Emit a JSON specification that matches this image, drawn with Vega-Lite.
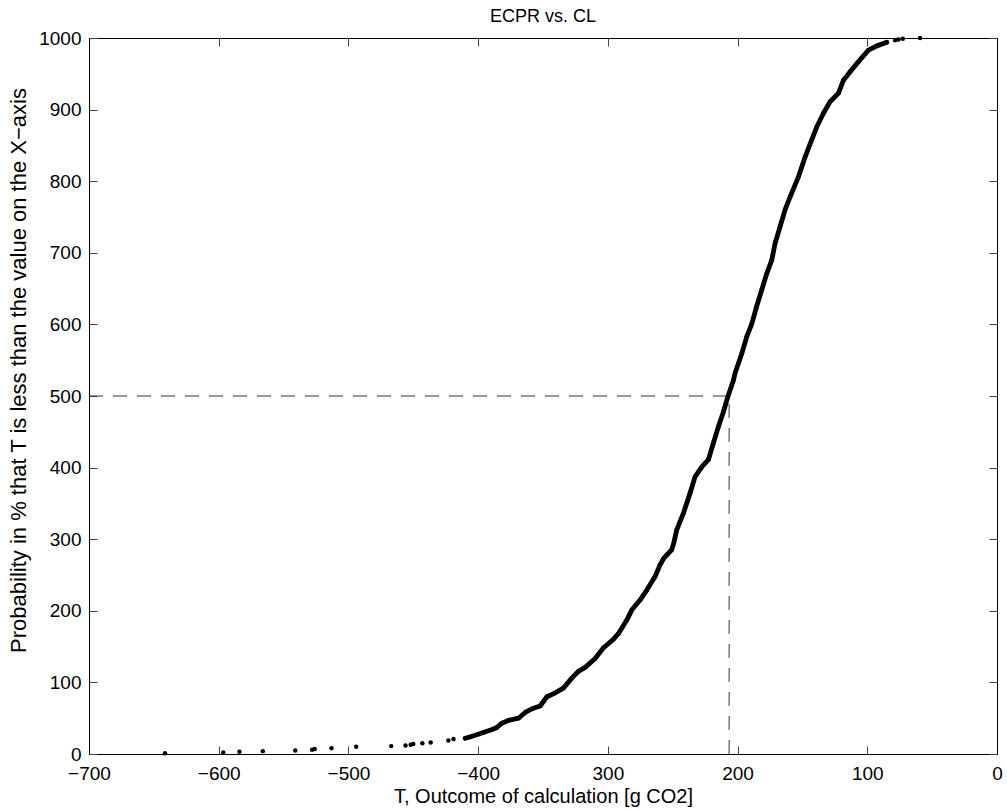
{
  "$schema": "https://vega.github.io/schema/vega-lite/v6.json",
  "width": 908,
  "height": 716,
  "autosize": {"type": "none"},
  "padding": {"left": 89, "top": 38, "right": 10, "bottom": 56},
  "background": "white",
  "config": {
    "font": "Liberation Sans",
    "view": {"stroke": "black", "strokeWidth": 1},
    "axis": {
      "labelFont": "Liberation Sans",
      "titleFont": "Liberation Sans",
      "labelFontSize": 19,
      "titleFontSize": 20,
      "titleFontWeight": "normal",
      "labelColor": "black",
      "titleColor": "black",
      "domainColor": "black",
      "tickColor": "#444",
      "grid": false
    }
  },
  "title": {
    "text": "ECPR vs. CL",
    "font": "Liberation Sans",
    "fontSize": 18,
    "fontWeight": "normal",
    "color": "black",
    "anchor": "middle",
    "offset": 3
  },
  "datasets": {
    "cdf": [
      {"T": -641.4, "P": 1},
      {"T": -596.5, "P": 2},
      {"T": -584, "P": 3},
      {"T": -566, "P": 4},
      {"T": -541, "P": 5},
      {"T": -528, "P": 6},
      {"T": -526, "P": 7},
      {"T": -513, "P": 8},
      {"T": -494, "P": 10},
      {"T": -467, "P": 11},
      {"T": -456, "P": 12},
      {"T": -452, "P": 13},
      {"T": -450, "P": 14},
      {"T": -443, "P": 15},
      {"T": -436.6, "P": 16},
      {"T": -423, "P": 19},
      {"T": -419, "P": 21},
      {"T": -410, "P": 22},
      {"T": -406, "P": 24},
      {"T": -401, "P": 27},
      {"T": -396, "P": 30},
      {"T": -389.7, "P": 34},
      {"T": -385.6, "P": 37},
      {"T": -381.8, "P": 43},
      {"T": -376.6, "P": 47},
      {"T": -368.9, "P": 50},
      {"T": -363.8, "P": 58},
      {"T": -357.4, "P": 64},
      {"T": -352.2, "P": 67},
      {"T": -347, "P": 80},
      {"T": -342, "P": 84},
      {"T": -334.3, "P": 92},
      {"T": -327.8, "P": 106},
      {"T": -323, "P": 115},
      {"T": -317.5, "P": 121},
      {"T": -310, "P": 133},
      {"T": -303.5, "P": 148},
      {"T": -295.8, "P": 160},
      {"T": -291.9, "P": 168},
      {"T": -285.4, "P": 187},
      {"T": -281.6, "P": 201},
      {"T": -275.2, "P": 215},
      {"T": -270, "P": 229},
      {"T": -263.6, "P": 248},
      {"T": -259.8, "P": 264},
      {"T": -257, "P": 273},
      {"T": -254.6, "P": 278},
      {"T": -250.8, "P": 285},
      {"T": -249, "P": 296},
      {"T": -246.9, "P": 313},
      {"T": -241.8, "P": 336},
      {"T": -236.7, "P": 364},
      {"T": -232.8, "P": 387},
      {"T": -227.6, "P": 401},
      {"T": -222.5, "P": 411},
      {"T": -218.7, "P": 434},
      {"T": -214.8, "P": 457},
      {"T": -210.9, "P": 478},
      {"T": -207.5, "P": 499},
      {"T": -203.2, "P": 522},
      {"T": -201.9, "P": 532},
      {"T": -196.8, "P": 559},
      {"T": -192.9, "P": 583},
      {"T": -189, "P": 601},
      {"T": -185.3, "P": 625},
      {"T": -181.4, "P": 648},
      {"T": -177.5, "P": 671},
      {"T": -173.6, "P": 690},
      {"T": -171.1, "P": 713},
      {"T": -167.3, "P": 736},
      {"T": -163.4, "P": 760},
      {"T": -159.5, "P": 778},
      {"T": -153.1, "P": 806},
      {"T": -147.9, "P": 834},
      {"T": -142.8, "P": 858},
      {"T": -138.9, "P": 876},
      {"T": -133.8, "P": 895},
      {"T": -128.7, "P": 911},
      {"T": -122.2, "P": 923},
      {"T": -118.4, "P": 941},
      {"T": -113.2, "P": 953},
      {"T": -106.8, "P": 967},
      {"T": -99.1, "P": 983},
      {"T": -92.6, "P": 989},
      {"T": -84.9, "P": 994},
      {"T": -78.5, "P": 997},
      {"T": -76, "P": 998},
      {"T": -72.6, "P": 999},
      {"T": -59.3, "P": 1000}
    ],
    "medianGuide": [
      {"step": 1, "T": -700, "P": 500},
      {"step": 2, "T": -206.5, "P": 500},
      {"step": 3, "T": -206.5, "P": 0}
    ]
  },
  "resolve": {"axis": {"x": "independent", "y": "independent"}},
  "layer": [
    {
      "data": {"name": "cdf"},
      "transform": [{"filter": "datum.P >= 22 && datum.P <= 994"}],
      "mark": {"type": "line", "color": "black", "strokeWidth": 4.8, "strokeJoin": "round", "strokeCap": "round"},
      "encoding": {
        "x": {
          "field": "T", "type": "quantitative",
          "scale": {"domain": [-700, 0], "nice": false, "zero": false},
          "axis": {
            "orient": "bottom",
            "values": [-700, -600, -500, -400, -300, -200, -100, 0],
            "labelExpr": "datum.value <= -400 ? '\u2212' + abs(datum.value) : '' + abs(datum.value)",
            "tickSize": -8,
            "labelPadding": 18,
            "labelFlush": false,
            "labelOverlap": false,
            "title": "T, Outcome of calculation [g CO2]",
            "titlePadding": 3
          }
        },
        "y": {
          "field": "P", "type": "quantitative",
          "scale": {"domain": [0, 1000], "nice": false},
          "axis": {
            "orient": "left",
            "values": [0, 100, 200, 300, 400, 500, 600, 700, 800, 900, 1000],
            "format": "d",
            "tickSize": -8,
            "labelPadding": 16,
            "labelFlush": false,
            "labelOverlap": false,
            "title": "Probability in % that T is less than the value on the X\u2212axis",
            "titleFontSize": 22,
            "titleY": 332,
            "titlePadding": 8
          }
        },
        "order": {"field": "P", "type": "quantitative"}
      }
    },
    {
      "data": {"name": "cdf"},
      "mark": {"type": "circle", "color": "black", "opacity": 1, "size": 20},
      "encoding": {
        "x": {
          "field": "T", "type": "quantitative",
          "scale": {"domain": [-700, 0], "nice": false, "zero": false},
          "axis": {
            "orient": "top",
            "values": [-700, -600, -500, -400, -300, -200, -100, 0],
            "tickSize": -8,
            "labels": false,
            "title": null
          }
        },
        "y": {
          "field": "P", "type": "quantitative",
          "scale": {"domain": [0, 1000], "nice": false},
          "axis": {
            "orient": "right",
            "values": [0, 100, 200, 300, 400, 500, 600, 700, 800, 900, 1000],
            "tickSize": -8,
            "labels": false,
            "title": null
          }
        }
      }
    },
    {
      "data": {"name": "medianGuide"},
      "mark": {"type": "line", "color": "#333", "strokeWidth": 1, "strokeDash": [14, 10]},
      "encoding": {
        "x": {"field": "T", "type": "quantitative", "axis": null},
        "y": {"field": "P", "type": "quantitative", "axis": null},
        "order": {"field": "step", "type": "quantitative"}
      }
    }
  ]
}
